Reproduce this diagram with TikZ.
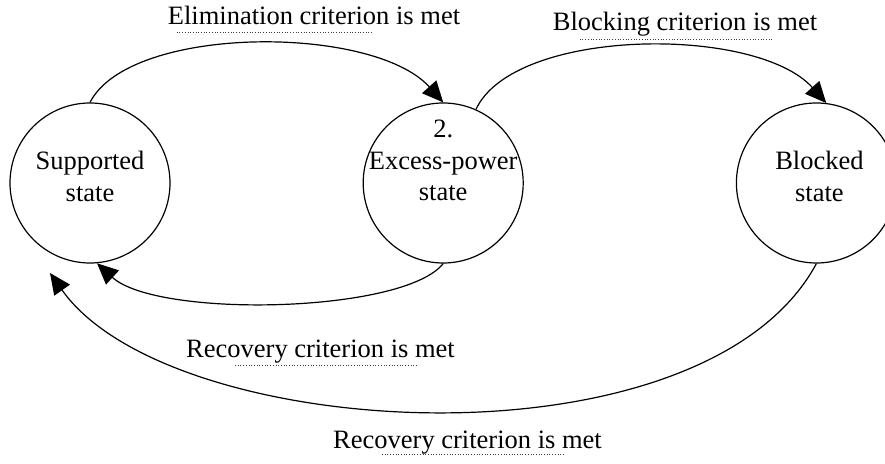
\documentclass[tikz,border=0pt]{standalone}
\usepackage{fontspec}
\setmainfont{Liberation Serif}
\usetikzlibrary{arrows.meta,positioning}
\tikzset{
  state/.style={draw, circle, line width=1.2pt, minimum size=160pt, inner sep=0pt},
  statetext/.style={align=center, font=\fontsize{26.5pt}{31.5pt}\selectfont, inner sep=0pt},
  crit/.style={anchor=base, font=\fontsize{26.5pt}{31.5pt}\selectfont, inner sep=0pt},
  trans/.style={line width=1.2pt, -{Triangle[length=21pt,width=19pt]}},
  spell/.style={line width=1pt, dash pattern=on 1pt off 1.7pt, black!75}
}
\begin{document}
\begin{tikzpicture}[x=1pt,y=1pt]
  \clip (0,0) rectangle (885,463);
  % states
  \node (sup) [state] at (90,280) {};
  \node (exc) [state, right=192pt of sup] {};
  \node (blk) [state, right=212pt of exc] {};
  \node (suptxt) [statetext] at ([yshift=6.5pt]sup.center) {Supported\\state};
  \node (exctxt) [statetext] at ([yshift=22.5pt]exc.center) {2.\\Excess-power\\state};
  \node (blktxt) [statetext] at ([shift={(3pt,6.5pt)}]blk.center) {Blocked\\state};
  \coordinate (ret) at ([shift={(-40pt,-90pt)}]sup.center);
  % transitions
  \draw[trans] (sup.north) .. controls +(40,78) and +(-70,78) .. (exc.north);
  \draw[trans] (exc.66) .. controls +(38,82) and +(-70,78) .. (blk.83);
  \draw[trans] (exc.south) .. controls +(-40,-50) and +(60,-55) .. (sup.-85);
  \draw[trans] (blk.south) .. controls +(-113,-210) and +(120,-170) .. (ret);
  % criteria
  \node (elim) [crit] at (314,438) {Elimination criterion is met};
  \node (block) [crit] at (685,432) {Blocking criterion is met};
  \node (rec1) [crit] at (320.5,105) {Recovery criterion is met};
  \node (rec2) [crit] at (467.5,15) {Recovery criterion is met};
  \draw[spell] ([shift={(9pt,-8pt)}]elim.base west) -- +(195pt,0);
  \draw[spell] ([shift={(27pt,-9pt)}]block.base west) -- +(193pt,0);
  \draw[spell] ([shift={(49pt,-7pt)}]rec1.base west) -- +(181pt,0);
  \draw[spell] ([shift={(49pt,-6pt)}]rec2.base west) -- +(181pt,0);
\end{tikzpicture}
\end{document}
